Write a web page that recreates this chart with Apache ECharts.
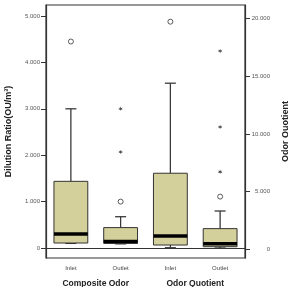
<!DOCTYPE html>
<html>
<head>
<meta charset="utf-8">
<script src="https://cdn.jsdelivr.net/npm/echarts@6/dist/echarts.min.js"></script>
<style>
html, body { margin: 0; padding: 0; background: #fff; }
#main { width: 288px; height: 287px; }
</style>
</head>
<body>
<div id="main"></div>
<script>
// categories
var categories = ['Inlet', 'Outlet', 'Inlet', 'Outlet'];
var groupNames = ['Composite Odor', 'Odor Quotient'];
// box data: [category index, low whisker, Q1, median, Q3, high whisker]
var compositeBoxes = [
	[0, 100, 108, 300, 1437, 3000],
	[1, 90, 100, 140, 440, 675]
];
var quotientBoxes = [
	[2, 113, 347, 1130, 6580, 14400],
	[3, 87, 200, 460, 1770, 3300]
];
// outliers (circles) and extremes (stars)
var compositeCircles = [[0, 4450], [1, 1000]];
var compositeStars = [[1, 2070], [1, 3000]];
var quotientCircles = [[2, 19740], [3, 4550]];
var quotientStars = [[3, 6700], [3, 10600], [3, 17200]];
// tick values
var leftTicks = [0, 1000, 2000, 3000, 4000, 5000];
var rightTicks = [0, 5000, 10000, 15000, 20000];

var FONT = 'Liberation Sans, Arial, sans-serif';
var STAR = 'path://M0,-5L1,-1.7L4.3,-2.5L2,0L4.3,2.5L1,1.7L0,5L-1,1.7L-4.3,2.5L-2,0L-4.3,-2.5L-1,-1.7Z';

function fmt(v) {
	if (v == 0) return '0';
	return Math.floor(v / 1000) + '.' + ('00' + (v % 1000)).slice(-3);
}

function renderBox(params, api) {
	var x = api.value(0);
	var lo = api.coord([x, api.value(1)]);
	var q1 = api.coord([x, api.value(2)]);
	var med = api.coord([x, api.value(3)]);
	var q3 = api.coord([x, api.value(4)]);
	var hi = api.coord([x, api.value(5)]);
	var cx = lo[0];
	var hw = api.size([1, 0])[0] * 0.34;
	var cw = 5.5;
	var wStyle = { stroke: '#3a3a3a', lineWidth: 1.3 };
	return {
		type: 'group',
		children: [
			{ type: 'line', shape: { x1: cx, y1: hi[1], x2: cx, y2: q3[1] }, style: wStyle },
			{ type: 'line', shape: { x1: cx, y1: q1[1], x2: cx, y2: lo[1] }, style: wStyle },
			{ type: 'line', shape: { x1: cx - cw, y1: hi[1], x2: cx + cw, y2: hi[1] }, style: wStyle },
			{ type: 'line', shape: { x1: cx - cw, y1: lo[1], x2: cx + cw, y2: lo[1] }, style: wStyle },
			{ type: 'rect', shape: { x: cx - hw, y: q3[1], width: hw * 2, height: q1[1] - q3[1] },
				style: { fill: '#d4d09b', stroke: '#333', lineWidth: 1 } },
			{ type: 'line', shape: { x1: cx - hw, y1: med[1], x2: cx + hw, y2: med[1] },
				style: { stroke: '#000', lineWidth: 3.5 } }
		]
	};
}

var myChart = echarts.init(document.getElementById('main'));
var option = {
	backgroundColor: '#fff',
	animation: false,
	grid: {
		left: 46, right: 43, top: 5, bottom: 29,
		outerBoundsMode: 'none',
		containLabel: false,
		show: true, borderColor: '#333', borderWidth: 1.2, backgroundColor: 'transparent'
	},
	xAxis: [{
		type: 'category',
		data: categories,
		axisLine: { lineStyle: { color: '#333', width: 1.2 } },
		axisTick: { alignWithLabel: true, length: 4, lineStyle: { color: '#333' } },
		axisLabel: { margin: 7, fontSize: 6, color: '#444', fontFamily: FONT, interval: 0 }
	}, {
		type: 'category',
		data: groupNames,
		position: 'bottom',
		axisLine: { show: false },
		axisTick: { show: false },
		axisLabel: { margin: 21, fontSize: 8.5, fontWeight: 'bold', color: '#222', fontFamily: FONT, interval: 0 }
	}],
	yAxis: [{
		type: 'value',
		position: 'left',
		min: -215, max: 5237,
		name: 'Dilution Ratio(OU/m³)',
		nameLocation: 'middle',
		nameGap: 33,
		nameRotate: 90,
		nameTextStyle: { fontSize: 9, fontWeight: 'bold', color: '#222', fontFamily: FONT },
		splitLine: { show: false },
		axisLine: { show: true, lineStyle: { color: '#333', width: 1.2 } },
		axisTick: { show: true, length: 5, customValues: leftTicks, lineStyle: { color: '#333' } },
		axisLabel: { customValues: leftTicks, margin: 6, fontSize: 6, color: '#555', fontFamily: FONT, formatter: fmt }
	}, {
		type: 'value',
		position: 'right',
		min: -780, max: 21190,
		name: 'Odor Quotient',
		nameLocation: 'middle',
		nameGap: 33,
		nameRotate: 90,
		nameTextStyle: { fontSize: 9, fontWeight: 'bold', color: '#222', fontFamily: FONT },
		splitLine: { show: false },
		axisLine: { show: true, lineStyle: { color: '#333', width: 1.2 } },
		axisTick: { show: true, length: 5, customValues: rightTicks, lineStyle: { color: '#333' } },
		axisLabel: { customValues: rightTicks, margin: 25, align: 'right', fontSize: 6, color: '#555', fontFamily: FONT, formatter: fmt }
	}],
	series: [{
		type: 'custom',
		yAxisIndex: 0,
		renderItem: renderBox,
		data: compositeBoxes
	}, {
		type: 'custom',
		yAxisIndex: 1,
		renderItem: renderBox,
		data: quotientBoxes
	}, {
		type: 'scatter',
		yAxisIndex: 0,
		symbol: 'circle',
		symbolSize: 5,
		itemStyle: { color: '#fff', borderColor: '#333', borderWidth: 1 },
		data: compositeCircles
	}, {
		type: 'scatter',
		yAxisIndex: 1,
		symbol: 'circle',
		symbolSize: 5,
		itemStyle: { color: '#fff', borderColor: '#333', borderWidth: 1 },
		data: quotientCircles
	}, {
		type: 'scatter',
		yAxisIndex: 0,
		symbol: STAR,
		symbolSize: 4.5,
		itemStyle: { color: '#222' },
		data: compositeStars
	}, {
		type: 'scatter',
		yAxisIndex: 1,
		symbol: STAR,
		symbolSize: 4.5,
		itemStyle: { color: '#222' },
		data: quotientStars
	}]
};
myChart.setOption(option);
</script>
</body>
</html>
